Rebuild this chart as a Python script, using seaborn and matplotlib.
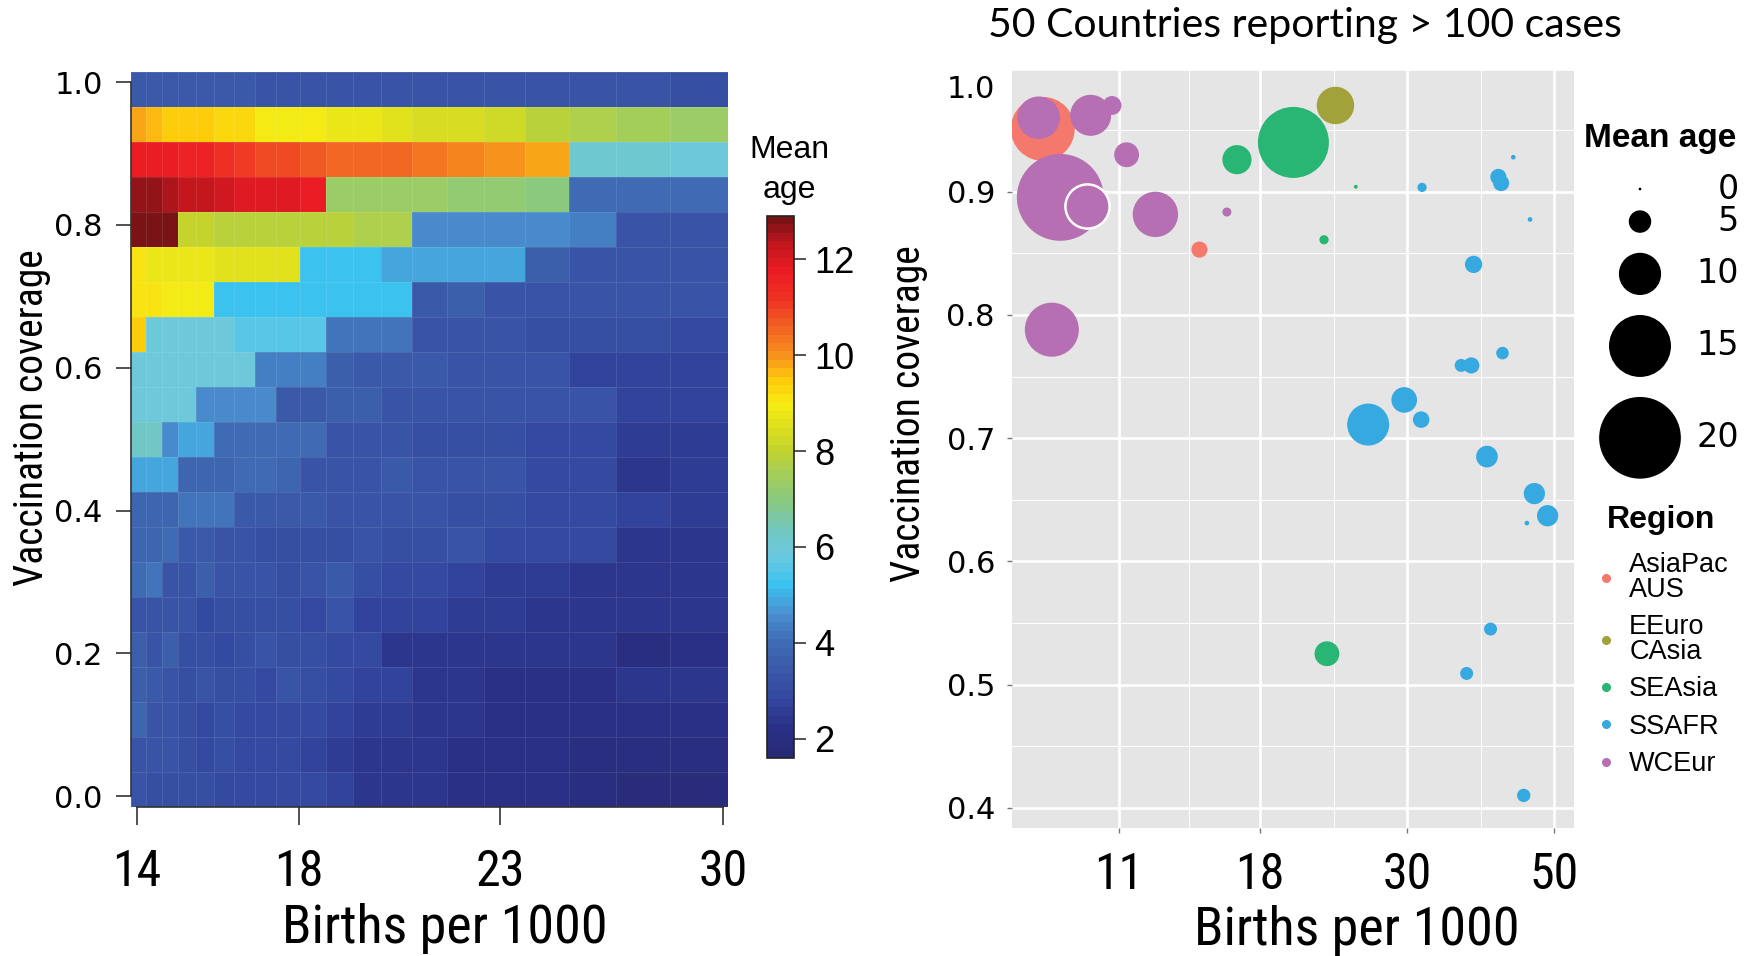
import numpy as np
import pandas as pd
import matplotlib
matplotlib.use("Agg")
import matplotlib.pyplot as plt
import seaborn as sns
from matplotlib.colors import LinearSegmentedColormap, Normalize
from matplotlib import font_manager
from matplotlib.lines import Line2D
from matplotlib.ticker import FixedLocator, NullFormatter, NullLocator
import matplotlib.transforms as mtransforms

# ------------------------------------------------------------------ data
# Left panel: modelled mean age of infection on a grid
births_edges = [13.84, 14.23, 14.62, 15.01, 15.45, 15.90, 16.39, 16.91, 17.44, 18.03,
                18.66, 19.35, 20.04, 20.82, 21.68, 22.60, 23.77, 25.16, 26.65, 28.34, 30.15]
coverage_rows = [0.990, 0.941, 0.892, 0.843, 0.794, 0.745, 0.696, 0.647, 0.598, 0.549,
                 0.500, 0.451, 0.402, 0.353, 0.304, 0.255, 0.206, 0.157, 0.108, 0.059, 0.010]
mean_age_grid = [
    [3.4, 3.4, 3.4, 3.4, 3.4, 3.4, 3.4, 3.35, 3.35, 3.35, 3.3, 3.3, 3.3, 3.3, 3.25, 3.2, 3.2, 3.2, 3.2, 3.15],
    [9.75, 9.7, 9.5, 9.45, 9.4, 9.3, 9.2, 9.0, 9.0, 8.9, 8.8, 8.75, 8.6, 8.45, 8.35, 8.2, 7.9, 7.65, 7.45, 7.3],
    [11.8, 11.8, 11.7, 11.6, 11.5, 11.3, 11.1, 10.95, 10.8, 10.75, 10.6, 10.5, 10.45, 10.3, 10.15, 10.0, 9.85, 6.05, 6.05, 5.95],
    [12.55, 12.55, 12.5, 12.35, 12.35, 12.1, 11.85, 11.85, 11.85, 11.8, 7.3, 7.3, 7.3, 7.25, 7.2, 7.1, 7.0, 4.0, 4.0, 3.95],
    [12.85, 12.85, 12.85, 8.0, 8.0, 7.95, 7.95, 7.9, 7.85, 7.85, 7.8, 7.75, 7.65, 4.55, 4.6, 4.45, 4.45, 4.4, 3.35, 3.35],
    [9.05, 8.75, 8.75, 8.7, 8.7, 8.65, 8.6, 8.55, 8.55, 5.2, 5.2, 5.2, 4.9, 4.9, 4.9, 4.9, 3.6, 3.35, 3.35, 3.35],
    [9.05, 9.05, 9.0, 9.0, 8.95, 5.15, 5.3, 5.3, 5.3, 5.3, 5.3, 5.3, 5.3, 3.5, 3.7, 3.3, 3.3, 3.25, 3.25, 3.2],
    [9.45, 5.85, 5.85, 5.85, 5.85, 5.85, 5.5, 5.5, 5.5, 5.5, 4.1, 4.1, 4.1, 3.35, 3.3, 3.3, 3.15, 3.15, 3.1, 2.95],
    [5.95, 5.95, 5.9, 5.85, 5.85, 5.85, 5.85, 4.3, 4.3, 4.3, 3.7, 3.4, 3.4, 3.5, 3.35, 3.25, 3.25, 2.8, 2.7, 2.75],
    [5.95, 5.95, 5.95, 5.9, 4.6, 4.6, 4.6, 4.6, 3.5, 3.5, 3.7, 3.7, 3.35, 3.35, 3.25, 3.25, 3.25, 3.2, 2.75, 2.7],
    [6.3, 6.3, 4.5, 4.9, 4.9, 3.9, 3.9, 3.9, 3.9, 3.9, 3.3, 3.3, 3.3, 3.15, 3.15, 3.15, 2.95, 3.0, 2.65, 2.5],
    [4.9, 4.9, 4.9, 3.85, 3.85, 3.85, 3.95, 3.95, 3.85, 3.3, 3.3, 3.3, 3.4, 3.2, 3.2, 3.25, 2.95, 2.95, 2.45, 2.5],
    [3.85, 3.85, 3.85, 4.15, 4.15, 4.1, 3.4, 3.4, 3.4, 3.5, 3.3, 3.2, 3.2, 3.2, 3.05, 3.1, 2.95, 2.95, 2.75, 2.55],
    [3.8, 3.8, 3.9, 3.4, 3.45, 3.35, 3.3, 3.15, 3.15, 3.1, 3.15, 3.2, 3.1, 3.05, 3.2, 2.95, 2.85, 2.85, 2.45, 2.4],
    [4.0, 4.2, 3.35, 3.35, 3.6, 3.3, 3.3, 3.2, 3.15, 3.3, 3.45, 3.1, 2.95, 2.9, 2.8, 2.6, 2.5, 2.45, 2.45, 2.45],
    [3.35, 3.35, 3.3, 3.35, 3.0, 3.1, 3.1, 3.15, 3.1, 2.9, 3.3, 2.7, 2.75, 2.8, 2.55, 2.5, 2.4, 2.4, 2.4, 2.4],
    [3.6, 3.3, 3.6, 3.1, 3.05, 3.0, 3.1, 3.3, 3.1, 3.1, 3.0, 2.95, 2.45, 2.45, 2.45, 2.4, 2.4, 2.35, 2.1, 2.2],
    [3.65, 3.4, 3.2, 3.1, 3.2, 3.1, 3.05, 3.0, 3.2, 3.1, 2.9, 2.8, 2.75, 2.45, 2.35, 2.3, 2.3, 2.3, 2.35, 2.35],
    [3.75, 3.2, 3.2, 3.1, 2.9, 3.15, 3.0, 3.0, 3.0, 2.85, 2.7, 2.55, 2.5, 2.4, 2.35, 2.3, 2.2, 2.2, 2.2, 2.2],
    [3.3, 3.3, 3.2, 3.05, 3.0, 3.1, 2.95, 3.0, 2.95, 2.75, 2.6, 2.45, 2.35, 2.35, 2.2, 2.3, 2.2, 2.05, 2.0, 2.0],
    [3.3, 3.1, 3.1, 3.1, 3.05, 2.95, 2.9, 2.9, 2.95, 2.85, 2.75, 2.45, 2.4, 2.35, 2.2, 2.3, 2.2, 2.05, 1.95, 1.95],
]
heat_xticks = [14, 18, 23, 30]
heat_yticks = [0.0, 0.2, 0.4, 0.6, 0.8, 1.0]
cbar_ticks = [2, 4, 6, 8, 10, 12]

# Right panel: countries
regions = ["AsiaPac AUS", "EEuro CAsia", "SEAsia", "SSAFR", "WCEur"]
country_region = (["AsiaPac AUS"] * 2 + ["EEuro CAsia"] * 1 + ["SEAsia"] * 5
                  + ["SSAFR"] * 19 + ["WCEur"] * 9)
country_births = [8.45, 14.57,
                  23.38,
                  16.60, 20.20, 25.1, 22.47, 22.7,
                  31.6, 43.4, 41.2, 41.6, 46.0, 37.8, 41.8, 36.2, 37.5, 29.7,
                  31.5, 26.2, 39.6, 46.7, 48.9, 45.5, 40.1, 36.9, 45.0,
                  8.33, 9.98, 10.75, 11.31, 8.98, 9.87, 12.50, 16.03, 8.72]
country_coverage = [0.951, 0.853,
                    0.970,
                    0.926, 0.940, 0.904, 0.861, 0.525,
                    0.9035, 0.928, 0.912, 0.907, 0.8775, 0.841, 0.769, 0.759, 0.759, 0.731,
                    0.715, 0.711, 0.685, 0.655, 0.637, 0.631, 0.545, 0.509, 0.410,
                    0.960, 0.962, 0.970, 0.930, 0.8954, 0.888, 0.8816, 0.8835, 0.788]
country_mean_age = [15.5, 3.4,
                    8.8,
                    6.7, 17.3, 0.3, 1.65, 5.6,
                    1.65, 0.5, 3.4, 3.4, 0.5, 3.7, 2.5, 2.6, 3.4, 5.8,
                    3.5, 9.95, 4.8, 4.7, 4.7, 0.5, 2.6, 2.6, 2.7,
                    10.1, 9.7, 4.1, 5.6, 21.3, 10.5, 10.8, 1.6, 13.0]
HIGHLIGHT = 32  # country drawn with a white outline
size_legend_ages = [0, 5, 10, 15, 20]
scatter_xticks = [11, 18, 30, 50]
scatter_yticks = [0.4, 0.5, 0.6, 0.7, 0.8, 0.9, 1.0]

# ------------------------------------------------------------------ styling
avail = {f.name for f in font_manager.fontManager.ttflist}
def pick(*names):
    for n in names:
        if n in avail:
            return n
    return "DejaVu Sans"
NARROW = pick("Liberation Sans Narrow", "Roboto Condensed", "Liberation Sans")
SANS = pick("Liberation Sans", "Arial", "DejaVu Sans")
WIDE = "DejaVu Sans"
TITLEF = pick("Lato", "Open Sans", SANS)
plt.rcParams["font.family"] = [SANS, "DejaVu Sans"]

region_palette = dict(zip(regions, ["#F4786C", "#A2A23A", "#29B574", "#36A9E1", "#B66FB3"]))

cmap_anchor = [(1.6, "#272a75"), (2.2, "#2a3188"), (2.8, "#33489f"), (3.3, "#3a56a7"),
               (4.0, "#3f6db5"), (4.6, "#4a92d1"), (5.2, "#3cc3f0"), (5.8, "#6cc9df"),
               (6.3, "#70c7c2"), (7.0, "#8cc97c"), (7.6, "#a8cf55"), (8.0, "#c1d32f"),
               (8.6, "#e2e21c"), (9.0, "#f7ec13"), (9.5, "#fdcc0b"), (10.0, "#f7941d"),
               (10.6, "#f26522"), (11.2, "#ee3324"), (11.8, "#ed1c24"), (12.4, "#c0161d"),
               (12.9, "#7a1315")]
VMIN, VMAX = cmap_anchor[0][0], cmap_anchor[-1][0]
cmap = LinearSegmentedColormap.from_list(
    "meanage", [((v - VMIN) / (VMAX - VMIN), c) for v, c in cmap_anchor], N=64)

W, H = 1750, 956
def box(x0, y0, x1, y1):
    return [x0 / W, 1 - y1 / H, (x1 - x0) / W, (y1 - y0) / H]

fig = plt.figure(figsize=(W / 100, H / 100), dpi=100)
AXC = "#333333"

# ------------------------------------------------------------------ left heatmap
ax1 = fig.add_axes(box(130.6, 71.7, 727.7, 806.7))
# the birth-rate axis of the model plot is non-uniform; piecewise-linear scale
ANCH_B = [0, 14, 18, 23, 30, 100]
ANCH_P = [137 - 14 * 40.5, 137, 299, 500, 723, 723 + 70 * 31.86]
ax1.set_xscale("function", functions=(lambda v: np.interp(v, ANCH_B, ANCH_P),
                                      lambda p: np.interp(p, ANCH_P, ANCH_B)))
cy = np.array(coverage_rows)
mid = (cy[:-1] + cy[1:]) / 2
y_edges = np.concatenate([[cy[0] + (cy[0] - mid[0])], mid, [cy[-1] - (mid[-1] - cy[-1])]])
mesh = ax1.pcolormesh(births_edges, y_edges, np.array(mean_age_grid), cmap=cmap,
                      norm=Normalize(VMIN, VMAX), shading="flat",
                      edgecolors=(1, 1, 1, 0.10), linewidth=0.5)
ax1.set_xlim(births_edges[0], births_edges[-1])
ax1.set_ylim(y_edges.min(), y_edges.max())
ax1.xaxis.set_major_locator(FixedLocator(heat_xticks))
ax1.xaxis.set_minor_locator(NullLocator())
ax1.set_xticklabels([str(v) for v in heat_xticks], fontfamily=NARROW, fontsize=36)
ax1.set_yticks(heat_yticks)
ax1.set_yticklabels([f"{v:.1f}" for v in heat_yticks], fontfamily=WIDE, fontsize=22)
ax1.tick_params(axis="x", direction="out", length=13, width=1.2, color=AXC, pad=17)
ax1.tick_params(axis="y", direction="out", length=11, width=1.2, color=AXC, pad=9)
for s in ["top", "right"]:
    ax1.spines[s].set_visible(False)
for s in ["left", "bottom"]:
    ax1.spines[s].set_color(AXC)
    ax1.spines[s].set_linewidth(1.2)
ax1.spines["left"].set_bounds(0.0, 1.0)
ax1.spines["bottom"].set_bounds(heat_xticks[0], heat_xticks[-1])
ax1.set_xlabel("Births per 1000", fontfamily=NARROW, fontsize=39)
ax1.set_ylabel("Vaccination coverage", fontfamily=NARROW, fontsize=28.5)
ax1.xaxis.set_label_coords(0.527, -0.166)
ax1.yaxis.set_label_coords(-0.1655, 0.530)
ax1.xaxis.label.set_va("center")
ax1.yaxis.label.set_va("center")

# colourbar
cax = fig.add_axes(box(767, 216, 794, 758))
cb = fig.colorbar(mesh, cax=cax, ticks=cbar_ticks)
cb.outline.set_linewidth(1.2)
cb.outline.set_edgecolor("#222222")
cax.tick_params(length=8.6, width=1.2, color=AXC, labelsize=26, pad=6)
fig.text(789 / W, 1 - 170 / H, "Mean\nage", ha="center", va="center",
         fontsize=23, linespacing=1.45, fontfamily=SANS)

# ------------------------------------------------------------------ right scatter
df = pd.DataFrame({"births": country_births, "coverage": country_coverage,
                   "age": country_mean_age, "region": country_region})
D0, DK, PX2PT = 2.7, 3.95, 0.72          # bubble diameter (px) = D0 + DK * age
area = lambda a: ((D0 + DK * np.asarray(a, float)) * PX2PT) ** 2
df["marker_area"] = area(df["age"])
a_lo, a_hi = float(area(0)), float(area(25))

ax2 = fig.add_axes(box(1012.3, 68.5, 1574, 828.3))
ax2.set_facecolor("#e5e5e5")
common = dict(x="births", y="coverage", hue="region", hue_order=regions,
              palette=region_palette, size="marker_area", sizes=(a_lo, a_hi),
              size_norm=(a_lo, a_hi), legend=False, ax=ax2)
sns.scatterplot(data=df, linewidth=0, zorder=3, **common)
sns.scatterplot(data=df.iloc[[HIGHLIGHT]], edgecolor="white", linewidth=1.8, zorder=4, **common)
ax2.set_xscale("log")
ax2.set_xlim(7.60, 53.6)
ax2.set_ylim(0.3833, 1.0)
ax2.xaxis.set_major_locator(FixedLocator(scatter_xticks))
xt = np.array(scatter_xticks, float)
ax2.xaxis.set_minor_locator(FixedLocator(np.sqrt(xt[:-1] * xt[1:])))
ax2.xaxis.set_minor_formatter(NullFormatter())
ax2.set_xticklabels([str(v) for v in scatter_xticks], fontfamily=NARROW, fontsize=36)
yt = np.array(scatter_yticks)
ax2.set_yticks(yt)
ax2.yaxis.set_minor_locator(FixedLocator((yt[:-1] + yt[1:]) / 2))
ax2.set_yticklabels([f"{v:.1f}" for v in scatter_yticks], fontfamily=WIDE, fontsize=22)
ax2.grid(which="major", color="white", linewidth=1.9)
ax2.grid(which="minor", color="white", linewidth=0.7)
ax2.set_axisbelow(True)
for s in ax2.spines.values():
    s.set_visible(False)
ax2.tick_params(which="major", direction="out", length=3.5, width=1, color="#777777")
ax2.tick_params(axis="x", which="major", pad=13)
ax2.tick_params(axis="y", which="major", pad=9)
ax2.tick_params(which="minor", length=0)
top_tick = ax2.yaxis.get_major_ticks()[-1]
top_tick.label1.set_va("top")
top_tick.label1.set_transform(top_tick.label1.get_transform()
                              + mtransforms.ScaledTranslation(0, -5 / 72, fig.dpi_scale_trans))
top_tick.tick1line.set_visible(False)
ax2.set_xlabel("Births per 1000", fontfamily=NARROW, fontsize=39)
ax2.set_ylabel("Vaccination coverage", fontfamily=NARROW, fontsize=28.5)
ax2.xaxis.set_label_coords(0.6137, -0.134)
ax2.yaxis.set_label_coords(-0.1848, 0.546)
ax2.xaxis.label.set_va("center")
ax2.yaxis.label.set_va("center")

fig.text(1305 / W, 1 - 26 / H, "50 Countries reporting > 100 cases", ha="center",
         va="center", fontsize=29.5, fontfamily=TITLEF)

# size legend (drawn in figure pixel space)
lax = fig.add_axes([0, 0, 1, 1], zorder=5)
lax.set_xlim(0, W)
lax.set_ylim(H, 0)
lax.axis("off")
lax.patch.set_alpha(0)
lax.text(1660, 138, "Mean age", ha="center", va="center", fontsize=24,
         fontweight="bold", fontfamily=SANS)
diam = D0 + DK * np.array(size_legend_ages, float)
ys = [189.0]
for i in range(1, len(diam)):
    ys.append(ys[-1] + (diam[i - 1] + diam[i]) / 2 + 20)
lax.scatter(np.full(len(ys), 1640.0), ys, s=area(size_legend_ages), color="black", linewidth=0)
for yv, a in zip(ys, size_legend_ages):
    lax.text(1739, yv, str(a), ha="right", va="center", fontsize=24, fontfamily=WIDE)

# region legend
handles = [Line2D([], [], marker="o", ls="", color=region_palette[r], markersize=5.5)
           for r in regions]
leg = fig.legend(handles, [r.replace(" ", "\n") for r in regions], title="Region",
                 loc="upper left", bbox_to_anchor=(1594 / W, 1 - 505 / H), frameon=False,
                 prop={"family": SANS, "size": 19.5},
                 title_fontproperties={"family": SANS, "size": 23, "weight": "bold"},
                 labelspacing=0.42, handletextpad=0.4, handlelength=0.9,
                 borderpad=0, borderaxespad=0)
leg._legend_box.sep = 12
for t in leg.get_texts():
    t.set_linespacing(0.95)

fig.savefig("out.png", dpi=100)
